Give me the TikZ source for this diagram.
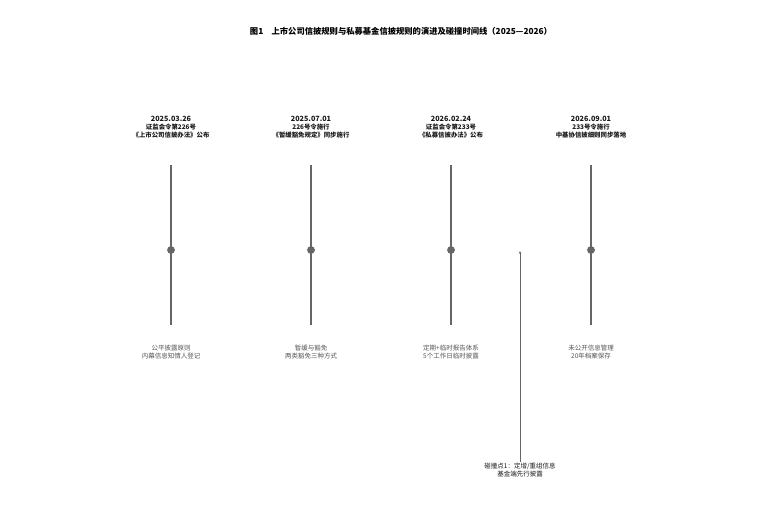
\documentclass[tikz,border=0pt]{standalone}
\usepackage{fontspec}
\setmainfont{Noto Sans CJK SC}
\usetikzlibrary{arrows.meta}
\definecolor{linegray}{HTML}{666666}
\definecolor{txtdark}{HTML}{1A1A1A}
\definecolor{txtlight}{HTML}{555555}
\tikzset{
  vline/.style={draw=linegray, line width=1.1pt},
  evdot/.style={circle, fill=linegray, inner sep=0pt, minimum size=7.5pt},
  toplabel/.style={align=center, font=\bfseries\fontsize{6.4}{8}\selectfont, text=txtdark, inner sep=0pt},
  botlabel/.style={align=center, font=\fontsize{6.5}{8}\selectfont, text=txtlight, inner sep=0pt},
  collarrow/.style={draw=linegray, line width=0.6pt, -{Stealth[length=3pt,width=2.5pt]}}
}
\begin{document}
\begin{tikzpicture}[x=1pt,y=-1pt]
\useasboundingbox (0,0) rectangle (764,504);
\node[font=\bfseries\fontsize{8.3}{10}\selectfont, text=black, inner sep=0pt] (title) at (401,31) {图1\quad 上市公司信披规则与私募基金信披规则的演进及碰撞时间线（2025—2026）};

% event 1
\coordinate (t1) at (171,165);
\coordinate (b1) at (171,325);
\node[evdot] (d1) at (171,250) {};
\draw[vline] (t1) -- (b1);
\node[evdot] at (d1) {};
\node[toplabel] (l1) at (171,127) {{\fontsize{7.2}{8}\selectfont 2025.03.26}\\证监会令第226号\\《上市公司信披办法》公布};
\node[botlabel] (n1) at (171,352) {公平披露原则\\内幕信息知情人登记};

% event 2
\coordinate (t2) at (311,165);
\coordinate (b2) at (311,325);
\node[evdot] (d2) at (311,250) {};
\draw[vline] (t2) -- (b2);
\node[evdot] at (d2) {};
\node[toplabel] (l2) at (311,127) {{\fontsize{7.2}{8}\selectfont 2025.07.01}\\226号令施行\\《暂缓豁免规定》同步施行};
\node[botlabel] (n2) at (311,352) {暂缓与豁免\\两类豁免三种方式};

% event 3
\coordinate (t3) at (451,165);
\coordinate (b3) at (451,325);
\node[evdot] (d3) at (451,250) {};
\draw[vline] (t3) -- (b3);
\node[evdot] at (d3) {};
\node[toplabel] (l3) at (451,127) {{\fontsize{7.2}{8}\selectfont 2026.02.24}\\证监会令第233号\\《私募信披办法》公布};
\node[botlabel] (n3) at (451,352) {定期+临时报告体系\\5个工作日临时披露};

% event 4
\coordinate (t4) at (591,165);
\coordinate (b4) at (591,325);
\node[evdot] (d4) at (591,250) {};
\draw[vline] (t4) -- (b4);
\node[evdot] at (d4) {};
\node[toplabel] (l4) at (591,127) {{\fontsize{7.2}{8}\selectfont 2026.09.01}\\233号令施行\\中基协信披细则同步落地};
\node[botlabel] (n4) at (591,352) {未公开信息管理\\20年档案保存};

% collision
\node[botlabel, text=txtdark] (c1) at (520,470) {碰撞点1：定增/重组信息\\基金端先行披露};
\coordinate (ctop) at (520,251);
\draw[collarrow] (c1.north) ++(0,-1) -- (ctop);
\end{tikzpicture}
\end{document}
